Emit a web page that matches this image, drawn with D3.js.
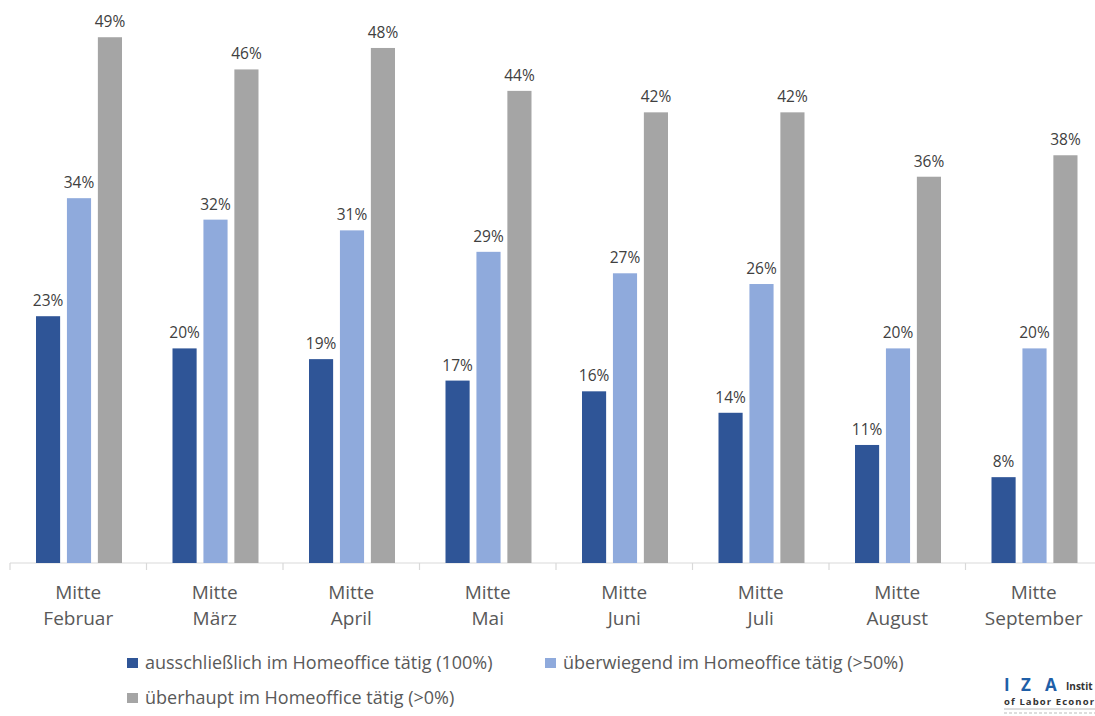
<!DOCTYPE html>
<html><head><meta charset="utf-8">
<script src="https://cdn.jsdelivr.net/npm/d3@7/dist/d3.min.js"></script>
<style>body{margin:0;background:#fff}svg{display:block}text{font-family:"Open Sans",Lato,sans-serif}</style>
</head><body>
<svg id="c" width="1095" height="716"></svg>
<script>
const categories = ["Mitte Februar","Mitte März","Mitte April","Mitte Mai","Mitte Juni","Mitte Juli","Mitte August","Mitte September"];
const seriesNames = ["ausschließlich im Homeoffice tätig (100%)","überwiegend im Homeoffice tätig (>50%)","überhaupt im Homeoffice tätig (>0%)"];
const exclusive = [23,20,19,17,16,14,11,8];
const mostly = [34,32,31,29,27,26,20,20];
const atAll = [49,46,48,44,42,42,36,38];
const colors = ["#2F5597","#8FAADC","#A5A5A5"];
const seriesValues = [exclusive, mostly, atAll];

const svg = d3.select("#c");
const x = d3.scaleBand().domain(categories).range([10, 1102]);
const xi = d3.scaleBand().domain([0,1,2]).range([26,112]).paddingInner(0.22);
const y = d3.scaleLinear().domain([0,50]).range([563, 26.5]);

// axis
const ax = svg.append("g").attr("transform","translate(0,563)");
ax.append("line").attr("x1",10).attr("x2",1095).attr("stroke","#d9d9d9").attr("stroke-width",1.2);
categories.forEach(c=>{
  ax.append("line").attr("x1",x(c)).attr("x2",x(c)).attr("y1",0).attr("y2",7).attr("stroke","#d9d9d9").attr("stroke-width",1.2);
});

// bars
categories.forEach((c,i)=>{
  seriesValues.forEach((vals,s)=>{
    const v = vals[i];
    svg.append("rect").attr("x",x(c)+xi(s)).attr("width",xi.bandwidth())
      .attr("y",y(v)).attr("height",y(0)-y(v)).attr("fill",colors[s]);
    svg.append("text").attr("x",x(c)+xi(s)+xi.bandwidth()/2).attr("y",y(v)-10)
      .attr("text-anchor","middle").attr("font-size",15.5).attr("fill","#404040").text(v+"%");
  });
  const parts = c.split(" ");
  const t = svg.append("text").attr("text-anchor","middle").attr("font-size",19).attr("fill","#595959");
  t.append("tspan").attr("x",x(c)+x.bandwidth()/2).attr("y",599).text(parts[0]);
  t.append("tspan").attr("x",x(c)+x.bandwidth()/2).attr("y",625).text(parts[1]);
});

// legend
const legendPos = [[127,669],[545,669],[127,704]];
seriesNames.forEach((n,s)=>{
  const [lx,ly] = legendPos[s];
  svg.append("rect").attr("x",lx).attr("y",ly-11).attr("width",11).attr("height",10).attr("fill",colors[s]);
  svg.append("text").attr("x",lx+18).attr("y",ly).attr("font-size",18).attr("fill","#595959").text(n);
});

// IZA logo (cropped at the right edge, as in the reference)
const logo = svg.append("g");
const iza = logo.append("text").attr("y",691).attr("font-size",17).attr("font-weight","bold").attr("fill","#1f5fa8");
[["I",1004],["Z",1021],["A",1045]].forEach(([ch,lx])=>iza.append("tspan").attr("x",lx).text(ch));
logo.append("text").attr("x",1066).attr("y",690).attr("font-size",10).attr("font-weight","bold").attr("fill","#333").text("Instit");
logo.append("text").attr("x",1004).attr("y",705).attr("font-size",9.5).attr("font-weight","bold").attr("fill","#333").attr("textLength",90).text("of Labor Econor");
logo.append("line").attr("x1",1004).attr("x2",1095).attr("y1",709).attr("y2",709).attr("stroke","#bbb").attr("stroke-width",1);
logo.append("line").attr("x1",1004).attr("x2",1095).attr("y1",713).attr("y2",713).attr("stroke","#ddd").attr("stroke-width",2).attr("stroke-dasharray","3,2");
</script>
</body></html>
